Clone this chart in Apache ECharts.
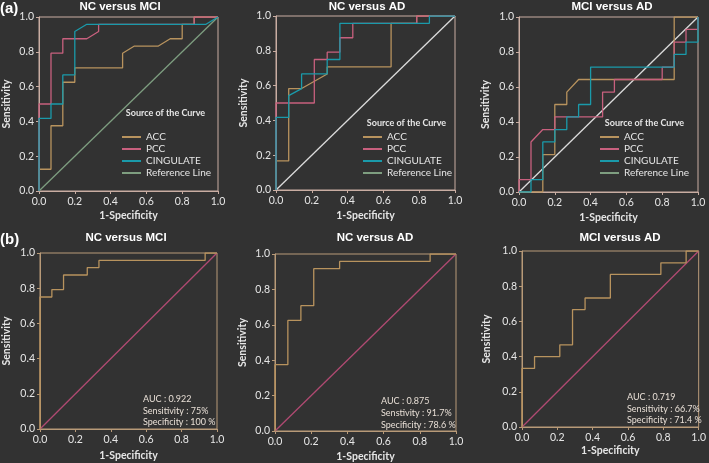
<!DOCTYPE html>
<html><head><meta charset="utf-8">
<script src="https://cdn.jsdelivr.net/npm/echarts@6/dist/echarts.min.js"></script>
<style>html,body{margin:0;padding:0;background:#323232}#c{width:709px;height:463px}</style>
</head><body><div id="c"></div>
<script>
// ---- tick labels ----
const tickValues = [0, 0.2, 0.4, 0.6, 0.8, 1.0];
// ---- panel titles ----
const panelTitles = ['NC versus MCI', 'NC versus AD', 'MCI versus AD', 'NC versus MCI', 'NC versus AD', 'MCI versus AD'];
const legendNames = ['ACC', 'PCC', 'CINGULATE', 'Reference Line'];
const refLine = [[0, 0], [1, 1]];
// ---- (a) NC versus MCI ----
const a1ACC = [[0,0],[0,0.125],[0.067,0.125],[0.067,0.375],[0.133,0.375],[0.133,0.625],[0.2,0.625],[0.2,0.708],[0.467,0.708],[0.467,0.792],[0.533,0.833],[0.667,0.833],[0.733,0.875],[0.8,0.875],[0.8,0.958],[0.867,0.958],[0.867,1],[1,1]];
const a1PCC = [[0,0],[0,0.5],[0.067,0.5],[0.067,0.792],[0.133,0.792],[0.133,0.875],[0.267,0.875],[0.333,0.917],[0.333,0.958],[0.867,0.958],[0.867,1],[1,1]];
const a1CING = [[0,0],[0,0.417],[0.067,0.417],[0.067,0.5],[0.133,0.5],[0.133,0.667],[0.2,0.667],[0.2,0.917],[0.267,0.958],[0.933,0.958],[1,1]];
// ---- (a) NC versus AD ----
const a2ACC = [[0,0],[0,0.167],[0.071,0.167],[0.071,0.583],[0.143,0.583],[0.286,0.667],[0.286,0.708],[0.643,0.708],[0.643,0.958],[0.786,0.958],[0.786,1],[1,1]];
const a2PCC = [[0,0],[0,0.5],[0.214,0.5],[0.214,0.75],[0.286,0.75],[0.286,0.792],[0.357,0.792],[0.357,0.875],[0.429,0.875],[0.429,0.958],[0.786,0.958],[0.786,1],[1,1]];
const a2CING = [[0,0],[0,0.417],[0.071,0.417],[0.071,0.542],[0.143,0.583],[0.143,0.667],[0.286,0.667],[0.286,0.75],[0.357,0.75],[0.357,0.958],[0.857,0.958],[0.857,1],[1,1]];
// ---- (a) MCI versus AD ----
const a3ACC = [[0,0],[0.133,0],[0.133,0.214],[0.2,0.214],[0.2,0.5],[0.267,0.5],[0.267,0.571],[0.333,0.643],[0.867,0.643],[0.867,1],[1,1]];
const a3PCC = [[0,0],[0,0.071],[0.067,0.071],[0.067,0.286],[0.133,0.357],[0.2,0.357],[0.2,0.429],[0.467,0.429],[0.467,0.571],[0.533,0.571],[0.533,0.643],[0.8,0.643],[0.8,0.714],[0.867,0.714],[0.867,0.857],[0.933,0.857],[0.933,0.929],[1,0.929],[1,1]];
const a3CING = [[0,0],[0.067,0],[0.067,0.071],[0.133,0.071],[0.133,0.286],[0.2,0.286],[0.2,0.357],[0.267,0.357],[0.267,0.429],[0.333,0.429],[0.333,0.5],[0.4,0.5],[0.4,0.714],[0.867,0.714],[0.867,0.786],[0.933,0.786],[0.933,0.857],[1,0.857],[1,1]];
// ---- (b) combined ROC curves ----
const b1ROC = [[0,0],[0,0.75],[0.067,0.75],[0.067,0.792],[0.133,0.792],[0.133,0.875],[0.267,0.875],[0.267,0.917],[0.333,0.917],[0.333,0.958],[0.933,0.958],[0.933,1],[1,1]];
const b2ROC = [[0,0],[0,0.375],[0.071,0.375],[0.071,0.625],[0.143,0.625],[0.143,0.708],[0.214,0.708],[0.214,0.917],[0.357,0.917],[0.357,0.958],[0.857,0.958],[0.857,1],[1,1]];
const b3ROC = [[0,0],[0,0.333],[0.071,0.333],[0.071,0.4],[0.214,0.4],[0.214,0.467],[0.286,0.467],[0.286,0.667],[0.357,0.667],[0.357,0.733],[0.5,0.733],[0.5,0.867],[0.786,0.867],[0.786,0.933],[0.929,0.933],[0.929,1],[1,1]];
// ---- (b) stats text ----
const b1Stats = ['AUC : 0.922', 'Sensitivity : 75%', 'Specificity : 100 %'];
const b2Stats = ['AUC : 0.875', 'Senstivity : 91.7%', 'Specificity : 78.6 %'];
const b3Stats = ['AUC : 0.719', 'Sensitivity : 66.7%', 'Specificity : 71.4 %'];

const C = {
  bg: '#323232', acc: '#b8935e', pcc: '#c8607e', cing: '#1a9aaa', refA1: '#7e9e80', refA: '#dcdcdc',
  frameA: '#c9ada2', frameB: '#b89a78', refB: '#b04a72', text: '#e6e6e6'
};
const SANS = '"Liberation Sans", Arial, sans-serif';
const LATO = 'Lato, "Noto Sans", sans-serif';

const grids = [
  {left: 38, top: 17, width: 180, height: 174},
  {left: 276, top: 16, width: 179, height: 174},
  {left: 519, top: 17, width: 179, height: 175},
  {left: 38, top: 253, width: 179, height: 176},
  {left: 275, top: 254, width: 181, height: 177},
  {left: 522, top: 251, width: 180, height: 176}
];
const yNameGap = [27, 27, 28, 28, 27, 30];
const xNameGap = [19, 20, 20, 21, 20, 18];

const option = {
  backgroundColor: C.bg,
  animation: false,
  grid: grids.map((g, i) => Object.assign({show: true, borderColor: i < 3 ? C.frameA : C.frameB, borderWidth: 1, backgroundColor: 'transparent'}, g)),
  xAxis: grids.map((g, i) => ({
    type: 'value', gridIndex: i, min: 0, max: 1, interval: 0.2,
    name: '1-Specificity', nameLocation: 'middle', nameGap: xNameGap[i],
    nameTextStyle: {color: C.text, fontFamily: LATO, fontWeight: 'bold', fontSize: 10.5},
    axisLine: {lineStyle: {color: i < 3 ? C.frameA : C.frameB, width: 1}},
    axisTick: {show: true, length: 3, lineStyle: {color: i < 3 ? C.frameA : C.frameB}},
    axisLabel: {color: C.text, fontFamily: LATO, fontSize: 10.5, margin: 5, formatter: v => v.toFixed(1)},
    splitLine: {show: false}
  })),
  yAxis: grids.map((g, i) => ({
    type: 'value', gridIndex: i, min: 0, max: 1, interval: 0.2,
    name: 'Sensitivity', nameLocation: 'middle', nameGap: yNameGap[i],
    nameTextStyle: {color: C.text, fontFamily: LATO, fontWeight: 'bold', fontSize: 10.5},
    axisLine: {lineStyle: {color: i < 3 ? C.frameA : C.frameB, width: 1}},
    axisTick: {show: true, length: 3, lineStyle: {color: i < 3 ? C.frameA : C.frameB}},
    axisLabel: {color: C.text, fontFamily: LATO, fontSize: 10.5, margin: 5, formatter: v => v.toFixed(1)},
    splitLine: {show: false}
  })),
  legend: [122, 363, 600].map(x => ({
    left: x, top: 131, orient: 'vertical', padding: 0, itemGap: 0,
    itemWidth: 19, itemHeight: 2, icon: 'rect', selectedMode: false,
    data: legendNames,
    textStyle: {color: C.text, fontFamily: LATO, fontSize: 10, lineHeight: 12, height: 12}
  })),
  series: [],
  graphic: []
};

function line(name, data, idx, color, z) {
  return {name, type: 'line', xAxisIndex: idx, yAxisIndex: idx, data, showSymbol: false, symbol: 'none',
    color, lineStyle: {color, width: 1.3}, z: z || 2, silent: true};
}
const aSets = [[a1ACC, a1PCC, a1CING], [a2ACC, a2PCC, a2CING], [a3ACC, a3PCC, a3CING]];
aSets.forEach((s, i) => {
  option.series.push(line('Reference Line', refLine, i, i === 0 ? C.refA1 : C.refA, 1));
  option.series.push(line('ACC', s[0], i, C.acc, 2));
  option.series.push(line('PCC', s[1], i, C.pcc, 3));
  option.series.push(line('CINGULATE', s[2], i, C.cing, 4));
});
[b1ROC, b2ROC, b3ROC].forEach((d, k) => {
  option.series.push(line('ref' + k, refLine, 3 + k, C.refB, 1));
  option.series.push(line('roc' + k, d, 3 + k, C.acc, 2));
});

const g = option.graphic;
function txt(x, y, text, opts) {
  g.push({type: 'text', x, y, silent: true, style: Object.assign({text, fill: '#ffffff', align: 'center', verticalAlign: 'middle'}, opts)});
}
const titlePos = [[120, 7], [367, 7], [612, 7], [126, 238], [375, 238], [620, 238]];
titlePos.forEach((p, i) => txt(p[0], p[1], panelTitles[i], {font: 'bold 11.5px ' + SANS}));
txt(0, 9, '(a)', {align: 'left', font: 'bold 15px ' + SANS});
txt(0, 240, '(b)', {align: 'left', font: 'bold 15px ' + SANS});
[[165.5, 113.5], [406.5, 123], [644.5, 123]].forEach(p => txt(p[0], p[1], 'Source of the Curve', {font: 'bold 9px ' + LATO, fill: C.text}));
[[143, 399, b1Stats], [381, 401.5, b2Stats], [627, 397, b3Stats]].forEach(p => {
  p[2].forEach((s, j) => txt(p[0], p[1] + j * 11.7, s, {align: 'left', font: '9px ' + LATO, fill: '#e8dfd6'}));
});

echarts.init(document.getElementById('c')).setOption(option);
</script>
</body></html>
